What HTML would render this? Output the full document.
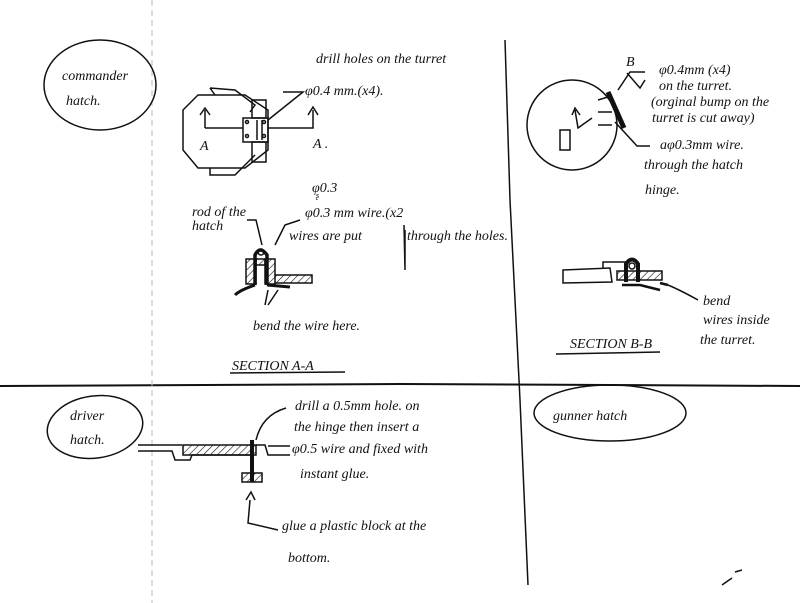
<!DOCTYPE html>
<html><head><meta charset="utf-8"><style>
html,body{margin:0;padding:0;background:#fff;}
svg{display:block}
text{font-family:"Liberation Serif",serif;font-style:italic;font-size:14px;fill:#111}
</style></head><body>
<svg width="800" height="603" viewBox="0 0 800 603" xmlns="http://www.w3.org/2000/svg">
<defs>
<pattern id="h" width="5" height="5" patternUnits="userSpaceOnUse" patternTransform="rotate(45)">
<line x1="0" y1="0" x2="0" y2="5" stroke="#111" stroke-width="1.2"/></pattern>
</defs>
<g fill="none" stroke="#111" stroke-width="1.5">
<!-- frame lines -->
<path d="M0 386 L400 384 L800 386" stroke-width="2"/>
<path d="M152 0 L152 603" stroke="#bbb" stroke-width="1" stroke-dasharray="6 4"/>
<path d="M505 40 L510 200 L520 400 L528 585"/>
<!-- commander -->
<ellipse cx="100" cy="85" rx="56" ry="45"/>
<path d="M198 95 L183 110 L183 150 L198 168 L245 168 L268 150 L268 110 L245 95 Z"/>
<path d="M210 88 L215 95 M210 88 L235 90 L255 105 L250 112 M210 168 L210 175 L235 175 L255 155"/>
<rect x="243" y="118" width="25" height="24"/>
<rect x="252" y="100" width="14" height="18"/>
<rect x="252" y="142" width="14" height="20"/>
<path d="M257 120 L257 140 M262 120 L262 140"/>
<circle cx="247" cy="122" r="1.5"/><circle cx="247" cy="136" r="1.5"/><circle cx="264" cy="122" r="1.5"/><circle cx="264" cy="136" r="1.5"/>
<path d="M205 128 L205 110 M200 115 L205 108 L210 115 M205 128 L243 128 M268 128 L313 128 L313 110 M308 115 L313 107 L318 115"/>
<path d="M283 92 L303 92 L268 120"/>
<!-- section A-A -->
<rect x="246" y="259" width="10" height="25" fill="url(#h)"/>
<rect x="265" y="259" width="10" height="25" fill="url(#h)"/>
<rect x="256" y="259" width="9" height="6" fill="url(#h)"/>
<path d="M275 275 L312 275 L312 283 L275 283" fill="url(#h)"/>
<path d="M255 285 L255 255 Q260 245 267 255 L267 285" stroke-width="3.5"/>
<circle cx="261" cy="252" r="3"/>
<path d="M255 285 Q240 290 235 295 M267 285 L290 287" stroke-width="3"/>
<path d="M247 220 L256 220 L262 245 M300 220 L285 225 L275 245"/>
<path d="M265 305 L268 290 M268 305 L278 290"/>
<path d="M404 225 L405 270 M405 230 L405 270"/>
<path d="M230 373 L345 372"/>
<!-- right top -->
<circle cx="572" cy="125" r="45"/>
<rect x="560" y="130" width="10" height="20"/>
<path d="M575 110 L578 128 L592 118 M572 115 L575 108 L580 115"/>
<path d="M598 100 L608 97 M598 112 L612 112 M598 125 L612 125"/>
<path d="M608 92 L624 128" stroke-width="5"/>
<path d="M645 72 L630 72 L618 90 M627 73 L640 88 L645 80 M615 122 L637 146 L650 146"/>
<path d="M556 354 L660 352"/>
<!-- section B-B -->
<path d="M563 270 L610 268 L612 282 L563 283 Z"/>
<path d="M603 268 L603 262 L628 262"/>
<rect x="617" y="271" width="45" height="9" fill="url(#h)"/>
<path d="M626 282 L626 264 Q632 255 638 264 L638 282" stroke-width="4"/>
<circle cx="632" cy="266" r="3"/>
<path d="M622 285 L640 285 L660 290 M660 283 L668 285" stroke-width="2.5"/>
<path d="M668 285 Q680 290 698 300"/>
<!-- driver -->
<ellipse cx="95" cy="427" rx="48" ry="31" transform="rotate(-8 95 427)"/>
<path d="M138 445 L182 445 M138 451 L172 451 L175 460 L190 460 L192 455 L250 455"/>
<rect x="183" y="445" width="73" height="10" fill="url(#h)"/>
<path d="M256 445 L265 445 L268 455 L290 455 M268 446 L290 446"/>
<rect x="242" y="473" width="20" height="9" fill="url(#h)"/>
<path d="M252 440 L252 482" stroke-width="4"/>
<path d="M286 408 Q262 415 256 440"/>
<path d="M250 500 L248 523 L278 530 M246 500 L251 492 L255 500"/>
<!-- gunner -->
<ellipse cx="610" cy="413" rx="76" ry="28"/>
<path d="M722 585 L732 578 M735 572 L742 570"/>
</g>
<g>
<text x="62" y="80">commander</text>
<text x="66" y="105">hatch.</text>
<text x="316" y="63">drill holes on the turret</text>
<text x="305" y="95">φ0.4 mm.(x4).</text>
<text x="200" y="150">A</text>
<text x="313" y="148">A .</text>
<text x="312" y="192">φ0.3</text>
<text x="315" y="202">ᶳ</text>
<text x="305" y="217">φ0.3 mm wire.(x2</text>
<text x="289" y="240">wires are put</text>
<text x="407" y="240">through the holes.</text>
<text x="192" y="216" font-size="12">rod of the</text>
<text x="192" y="230" font-size="12">hatch</text>
<text x="253" y="330">bend the wire here.</text>
<text x="232" y="370" font-size="13" font-style="normal">SECTION A-A</text>
<text x="626" y="66" font-size="13">B</text>
<text x="659" y="74">φ0.4mm (x4)</text>
<text x="659" y="90">on the turret.</text>
<text x="651" y="106" font-size="13">(orginal bump on the</text>
<text x="652" y="122" font-size="13">turret is cut away)</text>
<text x="660" y="149">aφ0.3mm wire.</text>
<text x="644" y="169">through the hatch</text>
<text x="645" y="194">hinge.</text>
<text x="703" y="305">bend</text>
<text x="703" y="324">wires inside</text>
<text x="700" y="344">the turret.</text>
<text x="570" y="348" font-size="13" font-style="normal">SECTION B-B</text>
<text x="70" y="420">driver</text>
<text x="70" y="444">hatch.</text>
<text x="295" y="410">drill a 0.5mm hole. on</text>
<text x="294" y="431">the hinge then insert a</text>
<text x="292" y="453">φ0.5 wire and fixed with</text>
<text x="300" y="478">instant glue.</text>
<text x="282" y="530">glue a plastic block at the</text>
<text x="288" y="562">bottom.</text>
<text x="553" y="420">gunner hatch</text>
</g>
</svg>
</body></html>
